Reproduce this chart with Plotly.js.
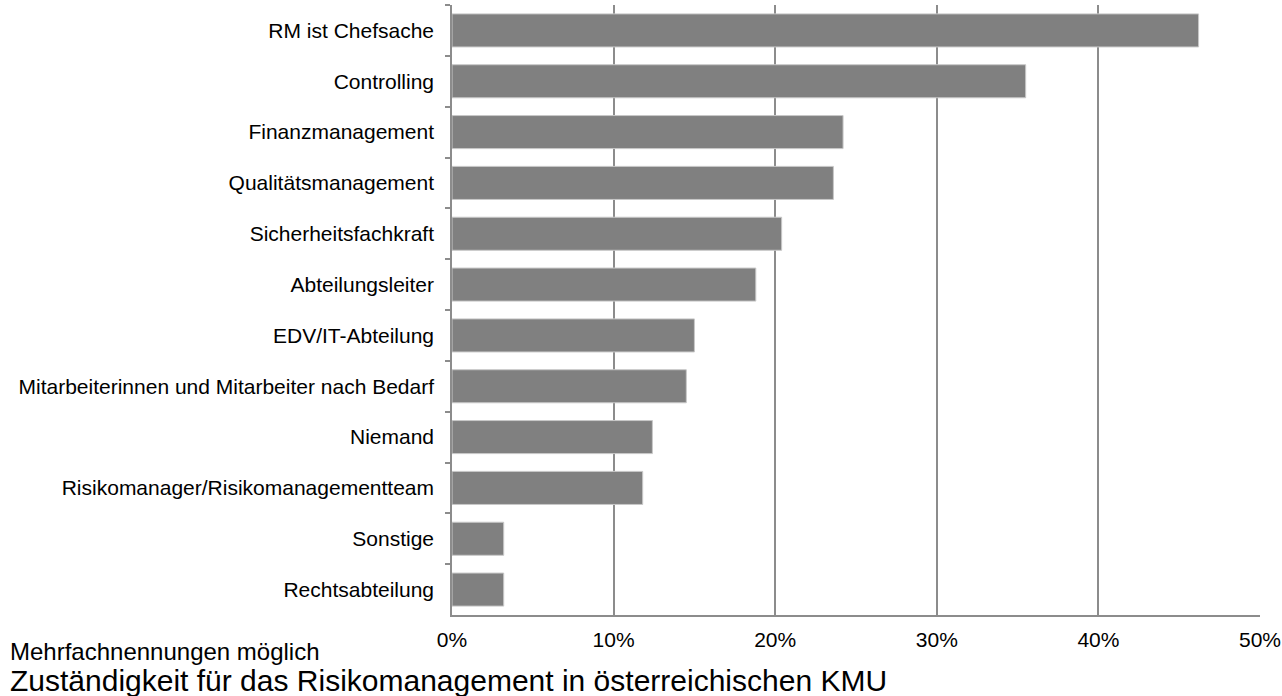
<!DOCTYPE html>
<html><head><meta charset="utf-8">
<script src="https://cdn.plot.ly/plotly-3.0.1.min.js"></script>
<style>html,body{margin:0;padding:0;background:#fff;}#chart{width:1282px;height:696px;}</style>
</head><body><div id="chart"></div>
<script>
const categories = ["RM ist Chefsache","Controlling","Finanzmanagement","Qualitätsmanagement","Sicherheitsfachkraft","Abteilungsleiter","EDV/IT-Abteilung","Mitarbeiterinnen und Mitarbeiter nach Bedarf","Niemand","Risikomanager/Risikomanagementteam","Sonstige","Rechtsabteilung"];
const values = [0.462, 0.355, 0.242, 0.236, 0.204, 0.188, 0.150, 0.145, 0.124, 0.118, 0.032, 0.032];
const xTickVals = [0, 0.1, 0.2, 0.3, 0.4, 0.5];
const xTickText = ["0%","10%","20%","30%","40%","50%"];
const titleText = "Zuständigkeit für das Risikomanagement in österreichischen KMU";
const noteText = "Mehrfachnennungen möglich";

const font = "Liberation Sans, Arial, sans-serif";
const plotW = 1282 - 452 - 22;
Plotly.newPlot('chart', [{
  type: 'bar', orientation: 'h',
  y: categories, x: values,
  marker: {color: '#808080', line: {color: '#c8c8c8', width: 1}},
  hoverinfo: 'x+y'
}], {
  width: 1282, height: 696,
  margin: {l: 452, r: 22, t: 5, b: 81},
  paper_bgcolor: '#fff', plot_bgcolor: '#fff',
  bargap: 0.35,
  showlegend: false,
  font: {family: font, color: '#000', size: 21},
  xaxis: {
    range: [0, 0.5], tickvals: xTickVals, ticktext: xTickText,
    showgrid: true, gridcolor: '#8c8c8c', gridwidth: 1.5,
    showline: true, linecolor: '#8c8c8c', linewidth: 1.5,
    zeroline: false, ticks: '', ticklabelstandoff: 5,
    tickfont: {size: 21, family: font}
  },
  yaxis: {
    autorange: 'reversed', type: 'category',
    showline: true, linecolor: '#8c8c8c', linewidth: 1.5,
    ticks: 'outside', ticklen: 5, tickcolor: '#8c8c8c', tickwidth: 1.5,
    tickson: 'boundaries', showgrid: false, zeroline: false,
    ticklabelstandoff: 12,
    tickfont: {size: 21, family: font}
  },
  annotations: [
    {text: noteText, xref: 'paper', yref: 'paper', x: -444/plotW, xanchor: 'left', y: 0, yshift: -36, yanchor: 'middle', showarrow: false, font: {size: 24, family: font, color: '#000'}},
    {text: titleText, xref: 'paper', yref: 'paper', x: -444/plotW, xanchor: 'left', y: 0, yshift: -65, yanchor: 'middle', showarrow: false, font: {size: 30, family: font, color: '#000'}}
  ]
}, {displayModeBar: false});
</script></body></html>
